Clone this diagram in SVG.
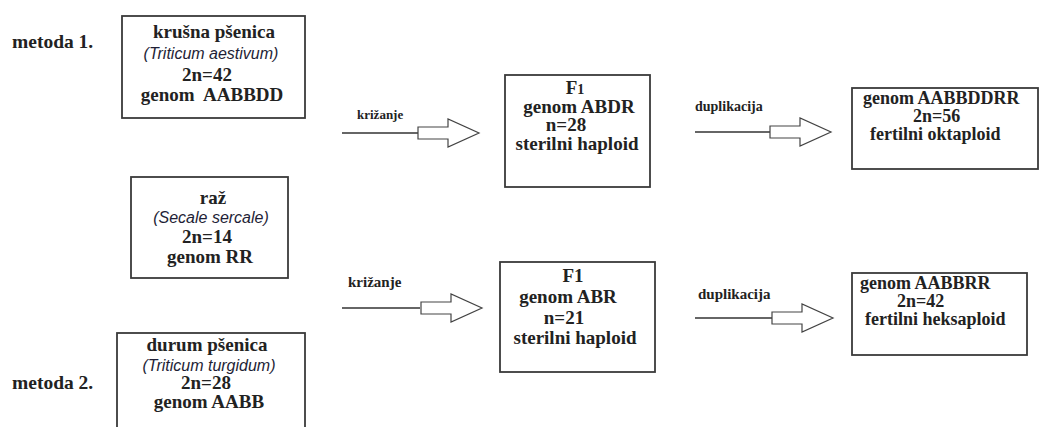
<svg xmlns="http://www.w3.org/2000/svg" width="1043" height="427" viewBox="0 0 1043 427">
<defs>
<path id="blockarrow" d="M0,-6 H30 V-14 L61,0 L30,14 V6 H0 Z" fill="#fff" stroke="#444" stroke-width="1.2"/>
</defs>
<rect width="1043" height="427" fill="#fff"/>
<text x="12" y="48" font-family="Times New Roman, Liberation Serif, serif" font-weight="bold" font-size="19.5" fill="#222">metoda 1.</text>
<text x="12" y="389" font-family="Times New Roman, Liberation Serif, serif" font-weight="bold" font-size="19.5" fill="#222">metoda 2.</text>

<g id="node-krusna" font-family="Times New Roman, Liberation Serif, serif" font-weight="bold" font-size="19" fill="#222" text-anchor="middle">
<rect x="122" y="16" width="183" height="102" fill="#fff" stroke="#3a3a3a" stroke-width="1.8"/>
<text x="214" y="38">krušna pšenica</text>
<text x="211" y="59" font-family="Liberation Sans, Arial, sans-serif" font-weight="normal" font-style="italic" font-size="16" fill="#1e1e36">(Triticum aestivum)</text>
<text x="207" y="81">2n=42</text>
<text x="212" y="101" xml:space="preserve">genom  AABBDD</text>
</g>

<g id="node-raz" font-family="Times New Roman, Liberation Serif, serif" font-weight="bold" font-size="19" fill="#222" text-anchor="middle">
<rect x="131" y="177" width="157" height="101" fill="#fff" stroke="#3a3a3a" stroke-width="1.8"/>
<text x="213" y="204">raž</text>
<text x="211" y="223" font-family="Liberation Sans, Arial, sans-serif" font-weight="normal" font-style="italic" font-size="16" fill="#1e1e36">(Secale sercale)</text>
<text x="207" y="243">2n=14</text>
<text x="210" y="263">genom RR</text>
</g>

<g id="node-durum" font-family="Times New Roman, Liberation Serif, serif" font-weight="bold" font-size="19" fill="#222" text-anchor="middle">
<rect x="117" y="333" width="188" height="110" fill="#fff" stroke="#3a3a3a" stroke-width="1.8"/>
<text x="207" y="351">durum pšenica</text>
<text x="209" y="371" font-family="Liberation Sans, Arial, sans-serif" font-weight="normal" font-style="italic" font-size="16" fill="#1e1e36">(Triticum turgidum)</text>
<text x="206" y="389">2n=28</text>
<text x="209" y="408">genom AABB</text>
</g>

<g id="node-f1-top" font-family="Times New Roman, Liberation Serif, serif" font-weight="bold" font-size="19" fill="#222" text-anchor="middle">
<rect x="505" y="75" width="145" height="112" fill="#fff" stroke="#3a3a3a" stroke-width="1.8"/>
<text x="575" y="94">F<tspan font-size="14">1</tspan></text>
<text x="579" y="113">genom ABDR</text>
<text x="566" y="131">n=28</text>
<text x="577" y="150">sterilni haploid</text>
</g>

<g id="node-f1-bottom" font-family="Times New Roman, Liberation Serif, serif" font-weight="bold" font-size="19" fill="#222" text-anchor="middle">
<rect x="500" y="262" width="155" height="110" fill="#fff" stroke="#3a3a3a" stroke-width="1.8"/>
<text x="573" y="282">F1</text>
<text x="568" y="303">genom ABR</text>
<text x="564" y="324">n=21</text>
<text x="575" y="344">sterilni haploid</text>
</g>

<g id="node-oktaploid" font-family="Times New Roman, Liberation Serif, serif" font-weight="bold" font-size="18" fill="#222">
<rect x="852" y="88" width="186" height="81" fill="#fff" stroke="#3a3a3a" stroke-width="1.8"/>
<text x="863" y="104">genom AABBDDRR</text>
<text x="913" y="122">2n=56</text>
<text x="870" y="140">fertilni oktaploid</text>
</g>

<g id="node-heksaploid" font-family="Times New Roman, Liberation Serif, serif" font-weight="bold" font-size="18" fill="#222">
<rect x="852" y="273" width="175" height="82" fill="#fff" stroke="#3a3a3a" stroke-width="1.8"/>
<text x="860" y="289">genom AABBRR</text>
<text x="897" y="307">2n=42</text>
<text x="865" y="325">fertilni heksaploid</text>
</g>

<g id="connectors" font-family="Times New Roman, Liberation Serif, serif" font-weight="bold" fill="#222">
<text x="357" y="119" font-size="13">križanje</text>
<line x1="342" y1="133" x2="418" y2="133" stroke="#333" stroke-width="1.3"/>
<use href="#blockarrow" x="418" y="133"/>

<text x="348" y="287" font-size="15">križanje</text>
<line x1="342" y1="308" x2="420" y2="308" stroke="#333" stroke-width="1.3"/>
<use href="#blockarrow" x="421" y="308"/>

<text x="695" y="111" font-size="14">duplikacija</text>
<line x1="695" y1="132" x2="770" y2="132" stroke="#333" stroke-width="1.3"/>
<use href="#blockarrow" x="770" y="132"/>

<text x="698" y="299" font-size="15">duplikacija</text>
<line x1="695" y1="318" x2="772" y2="318" stroke="#333" stroke-width="1.3"/>
<use href="#blockarrow" x="772" y="318"/>
</g>
</svg>
